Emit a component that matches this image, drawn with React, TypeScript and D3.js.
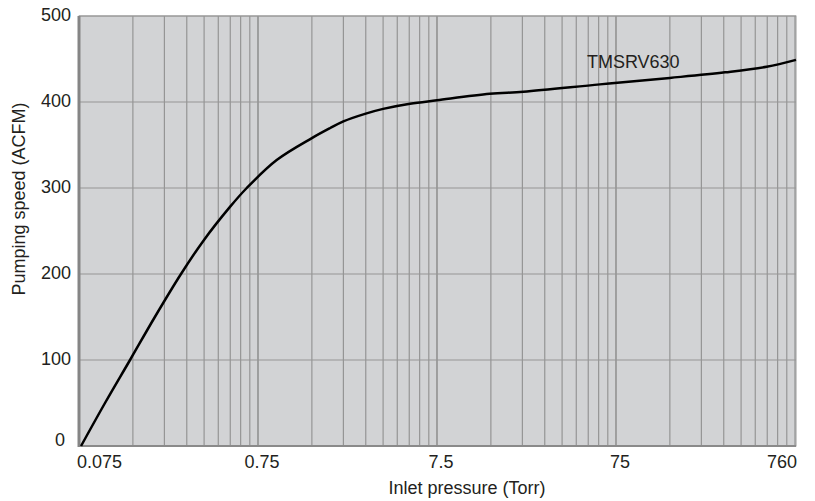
import React, { useRef, useEffect } from 'react';
import * as d3 from 'd3';

// curve (Torr -> ACFM)
const pressure = [0.077, 0.1048, 0.1446, 0.199, 0.2785, 0.371, 0.523, 0.649, 0.954, 1.5, 1.89, 2.25, 3.0, 3.75, 5.3, 7.5, 14.8, 22.8, 61, 150, 305, 521, 760];
const speed = [0, 50, 100, 150, 200, 238.5, 278, 300, 332.5, 358, 369.5, 377.5, 386.5, 392, 398, 402, 409.5, 412, 420.5, 428, 434.5, 441, 449];
const xTicks = [0.075, 0.75, 7.5, 75, 760];
const yTicks = [0, 100, 200, 300, 400, 500];
const decadeBases = [0.075, 0.75, 7.5, 75];
const seriesName = 'TMSRV630';
const labelAt = { p: 51.6, s: 445 };

const FONT = '"Liberation Sans", Arial, Helvetica, sans-serif';

const App = () => {
  const svgRef = useRef<SVGSVGElement | null>(null);

  useEffect(() => {
    const W = 815;
    const H = 501;
    const margin = { top: 16, right: 19, bottom: 55, left: 79 };
    const width = W - margin.left - margin.right;
    const height = H - margin.top - margin.bottom;

    const root = d3.select(svgRef.current);
    root.selectAll('*').remove();
    root.attr('width', W).attr('height', H);

    const svg = root.append('g').attr('transform', `translate(${margin.left},${margin.top})`);

    const x = d3.scaleLog().domain([0.075, 760]).range([0, width]);
    const y = d3.scaleLinear().domain([0, 500]).range([height, 0]);

    // plot background
    svg.append('rect')
      .attr('width', width)
      .attr('height', height)
      .attr('fill', '#d2d3d5')
      .attr('stroke', '#9a9a9a')
      .attr('stroke-width', 1);

    // vertical log grid
    const gridX: number[] = [];
    decadeBases.forEach(b => {
      for (let k = 1; k <= 10; k++) gridX.push(b * k);
    });
    svg.append('g')
      .selectAll('line')
      .data(gridX.filter(v => v <= 760))
      .join('line')
      .attr('x1', d => x(d))
      .attr('x2', d => x(d))
      .attr('y1', 0)
      .attr('y2', height)
      .attr('stroke', '#959595')
      .attr('stroke-width', 1.2);

    // horizontal grid
    svg.append('g')
      .selectAll('line')
      .data(yTicks)
      .join('line')
      .attr('x1', 0)
      .attr('x2', width)
      .attr('y1', d => y(d))
      .attr('y2', d => y(d))
      .attr('stroke', '#959595')
      .attr('stroke-width', 1.2);

    // axis lines
    svg.append('line')
      .attr('x1', 0).attr('x2', width)
      .attr('y1', height).attr('y2', height)
      .attr('stroke', '#8a8a8a')
      .attr('stroke-width', 2);
    svg.append('line')
      .attr('x1', 0).attr('x2', 0)
      .attr('y1', 0).attr('y2', height + 1)
      .attr('stroke', '#858585')
      .attr('stroke-width', 3);

    // y tick labels
    svg.append('g')
      .selectAll('text')
      .data(yTicks)
      .join('text')
      .attr('x', d => (d === 0 ? -14 : -8))
      .attr('y', d => y(d) + (d === 0 ? 0 : 5))
      .attr('text-anchor', 'end')
      .attr('font-family', FONT)
      .attr('font-size', 18)
      .attr('fill', '#231f20')
      .text(d => d);

    // x tick labels
    svg.append('g')
      .selectAll('text')
      .data(xTicks)
      .join('text')
      .attr('x', (d, i) => x(d) + (i === 0 ? -2 : i === xTicks.length - 1 ? 1 : 4))
      .attr('y', height + 22)
      .attr('text-anchor', (d, i) => (i === 0 ? 'start' : i === xTicks.length - 1 ? 'end' : 'middle'))
      .attr('font-family', FONT)
      .attr('font-size', 18)
      .attr('fill', '#231f20')
      .text(d => d);

    // curve
    const line = d3.line<number>()
      .x((d, i) => x(pressure[i]))
      .y(d => y(d))
      .curve(d3.curveCatmullRom.alpha(0.5));

    svg.append('path')
      .datum(speed)
      .attr('fill', 'none')
      .attr('stroke', '#000')
      .attr('stroke-width', 2.5)
      .attr('d', line);

    // series label
    svg.append('text')
      .attr('x', x(labelAt.p))
      .attr('y', y(labelAt.s) + 5)
      .attr('font-family', FONT)
      .attr('font-size', 18)
      .attr('fill', '#231f20')
      .text(seriesName);

    // axis titles
    root.append('text')
      .attr('x', 467)
      .attr('y', 494)
      .attr('text-anchor', 'middle')
      .attr('font-family', FONT)
      .attr('font-size', 18)
      .attr('fill', '#231f20')
      .text('Inlet pressure (Torr)');

    root.append('text')
      .attr('transform', 'translate(25,199) rotate(-90)')
      .attr('text-anchor', 'middle')
      .attr('font-family', FONT)
      .attr('font-size', 18)
      .attr('fill', '#231f20')
      .text('Pumping speed (ACFM)');
  }, []);

  return (
    <div style={{ position: 'absolute', left: 0, top: 0, background: '#fff' }}>
      <svg ref={svgRef} style={{ display: 'block' }}></svg>
    </div>
  );
};

export default App;
